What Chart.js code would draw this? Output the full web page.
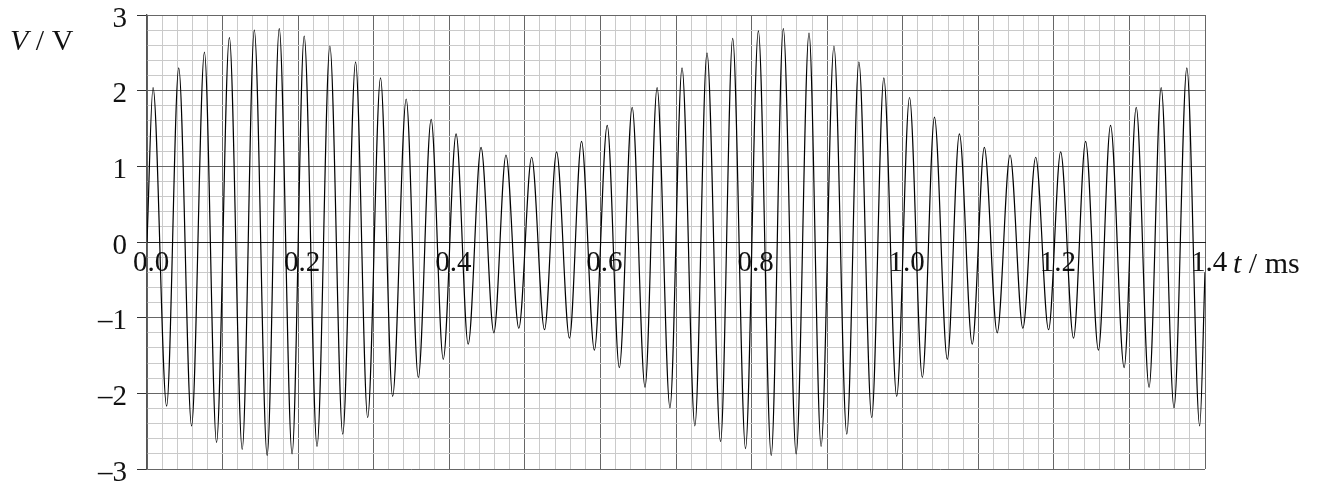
<!DOCTYPE html>
<html>
<head>
<meta charset="utf-8">
<script src="https://cdn.jsdelivr.net/npm/chart.js@4"></script>
<style>
  body { margin: 0; background: #fff; }
  canvas { display: block; }
</style>
</head>
<body>
<canvas id="senal" width="1322" height="487"></canvas>
<script>
// Peaks (t in ms, V in volts)
const peakTimes = [0.008, 0.042, 0.076, 0.109, 0.142, 0.175, 0.208, 0.242, 0.276, 0.309,
                   0.343, 0.376, 0.409, 0.442, 0.475, 0.509, 0.542, 0.575, 0.609, 0.642,
                   0.675, 0.708, 0.741, 0.775, 0.809, 0.842, 0.876, 0.909, 0.942, 0.975,
                   1.009, 1.042, 1.075, 1.108, 1.142, 1.176, 1.209, 1.242, 1.275, 1.309,
                   1.342, 1.376];
const peakVolts = [2.04, 2.30, 2.51, 2.70, 2.80, 2.82, 2.72, 2.59, 2.38, 2.17,
                   1.89, 1.62, 1.43, 1.25, 1.15, 1.12, 1.19, 1.33, 1.54, 1.78,
                   2.04, 2.30, 2.50, 2.69, 2.79, 2.82, 2.76, 2.59, 2.38, 2.17,
                   1.91, 1.65, 1.43, 1.25, 1.15, 1.12, 1.19, 1.33, 1.54, 1.78,
                   2.04, 2.30];

// Troughs
const troughTimes = [0.026, 0.059, 0.092, 0.126, 0.159, 0.192, 0.225, 0.259, 0.292, 0.325,
                     0.359, 0.392, 0.425, 0.459, 0.492, 0.526, 0.559, 0.592, 0.625, 0.659,
                     0.692, 0.725, 0.759, 0.792, 0.826, 0.859, 0.892, 0.926, 0.959, 0.992,
                     1.026, 1.059, 1.092, 1.125, 1.159, 1.193, 1.226, 1.259, 1.293, 1.326,
                     1.359, 1.393];
const troughVolts = [-2.17, -2.43, -2.65, -2.74, -2.82, -2.80, -2.70, -2.54, -2.32, -2.04,
                     -1.79, -1.55, -1.35, -1.20, -1.14, -1.16, -1.27, -1.43, -1.66, -1.92,
                     -2.19, -2.43, -2.64, -2.73, -2.82, -2.80, -2.70, -2.54, -2.32, -2.04,
                     -1.79, -1.55, -1.35, -1.20, -1.14, -1.16, -1.27, -1.43, -1.66, -1.92,
                     -2.19, -2.43];

// Ends of the trace
const startPoint = [0, 0];
const endPoint = [1.4, -0.4];

// Axis labels
const xLabels = ['0.0', '0.2', '0.4', '0.6', '0.8', '1.0', '1.2', '1.4'];
const yLabels = ['–3', '–2', '–1', '0', '1', '2', '3'];

const fuente = '"Liberation Serif", "Times New Roman", serif';
const MAJOR = '#666666';
const MINOR = '#cacaca';

// Put the points in time order: start, peak, trough, ..., end
const puntos = [{ x: startPoint[0], y: startPoint[1] }];
for (let i = 0; i < peakTimes.length; i++) {
    puntos.push({ x: peakTimes[i], y: peakVolts[i] });
    puntos.push({ x: troughTimes[i], y: troughVolts[i] });
}
puntos.push({ x: endPoint[0], y: endPoint[1] });

// Axis names drawn next to the grid
const nombresEjes = {
    id: 'nombresEjes',
    afterDraw(chart) {
        const c = chart.ctx;
        c.save();
        c.fillStyle = '#111';
        c.textBaseline = 'middle';
        c.textAlign = 'left';
        const y0 = chart.scales.y.getPixelForValue(0);
        const xr = chart.chartArea.right;

        c.font = 'italic 30px ' + fuente;
        c.fillText('V', 10, 42);
        let w = c.measureText('V').width;
        c.font = '30px ' + fuente;
        c.fillText(' / V', 10 + w, 42);

        c.font = 'italic 30px ' + fuente;
        c.fillText('t', xr + 28, y0 + 23);
        w = c.measureText('t').width;
        c.font = '30px ' + fuente;
        c.fillText(' / ms', xr + 28 + w, y0 + 23);
        c.restore();
    }
};

// Keep label overhang from pushing the plot area around
const sinRelleno = (scale) => {
    scale.paddingTop = 0;
    scale.paddingBottom = 0;
    scale.paddingLeft = 0;
    scale.paddingRight = 0;
};

new Chart('senal', {
    type: 'line',
    data: {
        datasets: [{
            data: puntos,
            borderColor: '#000',
            borderWidth: 1.2,
            pointRadius: 0,
            cubicInterpolationMode: 'monotone',
            fill: false
        }]
    },
    options: {
        responsive: false,
        animation: false,
        layout: { padding: { left: 0, right: 117, top: 15, bottom: 18 } },
        plugins: { legend: { display: false }, tooltip: { enabled: false } },
        scales: {
            x: {
                type: 'linear',
                position: { y: 0 },
                min: 0,
                max: 1.4,
                border: { color: '#222', width: 1 },
                grid: {
                    drawTicks: false,
                    color: (c) => (c.index % 5 === 0 ? MAJOR : MINOR)
                },
                ticks: {
                    stepSize: 0.02,
                    autoSkip: false,
                    maxRotation: 0,
                    padding: 4,
                    labelOffset: 4,
                    color: '#111',
                    font: { family: fuente, size: 29 },
                    callback: (v, i) => (i % 10 === 0 ? xLabels[i / 10] : '')
                },
                afterFit: sinRelleno
            },
            y: {
                min: -3,
                max: 3,
                border: { color: '#555', width: 1.3 },
                grid: {
                    tickLength: 10,
                    color: (c) => {
                        if (c.tick && Math.abs(c.tick.value) < 1e-9) return '#222';
                        return c.index % 5 === 0 ? MAJOR : MINOR;
                    },
                    tickColor: (c) => (c.index % 5 === 0 ? '#333' : 'rgba(0,0,0,0)')
                },
                ticks: {
                    stepSize: 0.2,
                    autoSkip: false,
                    padding: 10,
                    labelOffset: 4,
                    color: '#111',
                    font: { family: fuente, size: 29 },
                    callback: (v, i) => (i % 5 === 0 ? yLabels[i / 5] : '')
                },
                afterFit: (scale) => {
                    sinRelleno(scale);
                    scale.width = 147;
                }
            }
        }
    },
    plugins: [nombresEjes]
});
</script>
</body>
</html>
